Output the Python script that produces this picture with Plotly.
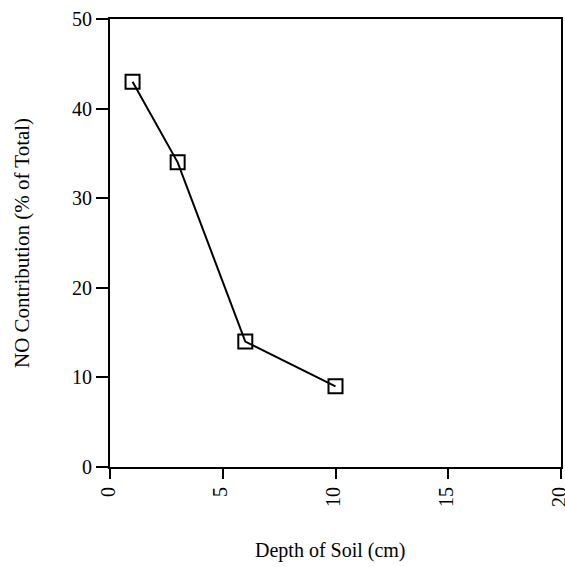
import plotly.graph_objects as go

depth = [1, 3, 6, 10]
no_contribution = [43, 34, 14, 9]
x_ticks = [0, 5, 10, 15, 20]
y_ticks = [0, 10, 20, 30, 40, 50]

W, H = 565, 567
L, T = 110, 19
R = W - 561
B = H - 467
pw, ph = W - L - R, H - T - B

fig = go.Figure()
fig.add_trace(go.Scatter(
    x=depth, y=no_contribution, mode="lines+markers",
    line=dict(color="black", width=2),
    marker=dict(symbol="square-open", size=14, color="black", line=dict(width=2)),
    showlegend=False, cliponaxis=False,
))

fam = "Liberation Serif, Times New Roman, serif"
tickfont = dict(family=fam, size=20, color="black")
fig.update_layout(
    width=W, height=H,
    margin=dict(l=L, r=R, t=T, b=B, autoexpand=False),
    paper_bgcolor="white", plot_bgcolor="white",
    font=tickfont,
    annotations=[
        dict(text="Depth of Soil (cm)", xref="paper", yref="paper",
             x=(330 - L) / pw, y=(T + ph - 550) / ph,
             xanchor="center", yanchor="middle",
             showarrow=False, font=dict(family=fam, size=20, color="black")),
        dict(text="NO Contribution (% of Total)", xref="paper", yref="paper",
             x=(22 - L) / pw, y=0.5, xanchor="center", yanchor="middle",
             textangle=-90, showarrow=False, font=dict(family=fam, size=21, color="black")),
    ],
)
fig.update_xaxes(
    range=[0, 20], tickvals=x_ticks, ticktext=[str(v) for v in x_ticks],
    tickangle=-90, ticks="outside", ticklen=10, tickwidth=2, tickcolor="black",
    showline=True, linewidth=2, linecolor="black", mirror=True,
    showgrid=False, zeroline=False, automargin=False, tickfont=tickfont,
    ticklabeloverflow="allow", ticklabelshift=-2,
)
fig.update_yaxes(
    range=[0, 50], tickvals=y_ticks, ticktext=[str(v) for v in y_ticks],
    ticks="outside", ticklen=12, tickwidth=2, tickcolor="black",
    showline=True, linewidth=2, linecolor="black", mirror=True,
    showgrid=False, zeroline=False, automargin=False, tickfont=tickfont,
    ticklabeloverflow="allow",
)
fig.write_html("out.html", config={"displayModeBar": False},
               post_script="document.body.style.margin='0';document.body.style.overflow='hidden';")
